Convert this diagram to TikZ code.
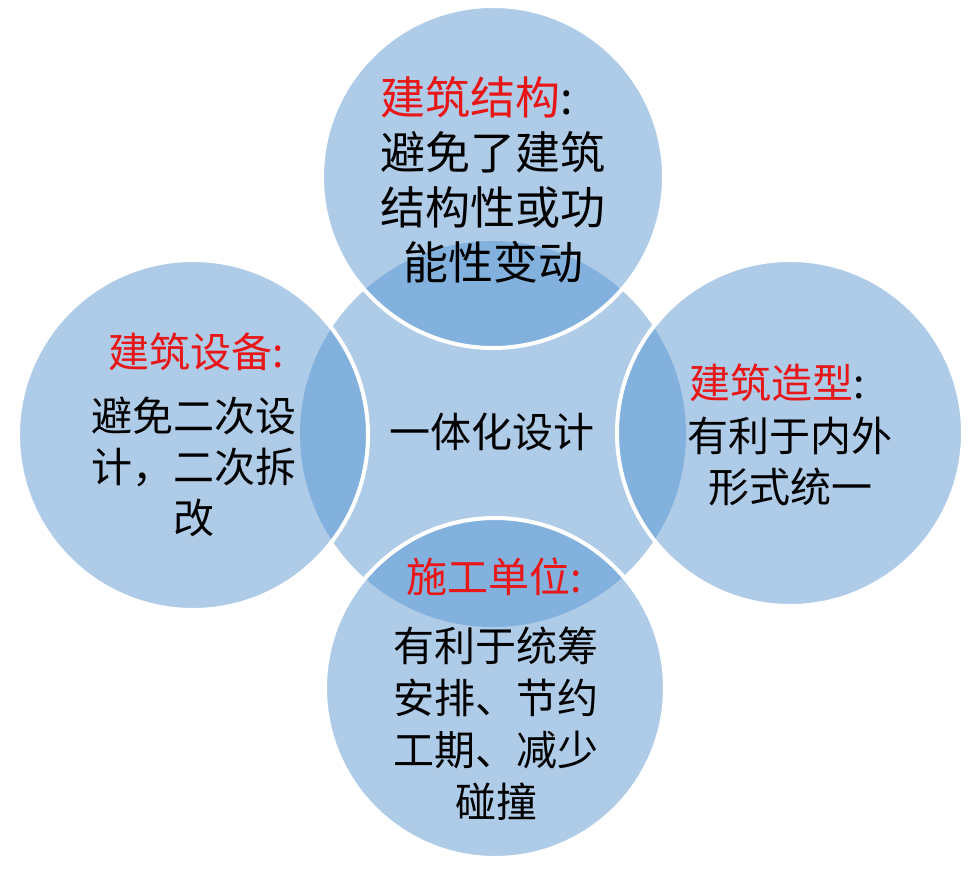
\documentclass[tikz,border=0pt]{standalone}
\usepackage{fontspec}
\setmainfont{Noto Sans CJK SC}
\definecolor{lightblue}{RGB}{174,203,232}
\definecolor{darkblue}{RGB}{131,177,222}
\definecolor{headred}{RGB}{232,22,22}
\begin{document}
\begin{tikzpicture}[x=1pt,y=-1pt,
  big/.style={align=center,inner sep=0pt,font=\fontsize{45}{55}\selectfont},
  mid/.style={align=center,inner sep=0pt,font=\fontsize{41}{51}\selectfont},
  head/.style={inner sep=0pt,text=headred},
  ring/.style={draw=white,line width=4pt}]
\useasboundingbox (0,0) rectangle (975,876);
\coordinate (cc) at (493,434);
\coordinate (ctop) at (493,177);
\coordinate (cleft) at (193,435);
\coordinate (cright) at (790,433);
\coordinate (cbot) at (495,688);
% base circles
\fill[lightblue] (cc) circle (193pt);
\fill[lightblue] (ctop) circle (171pt);
\fill[lightblue] (cleft) circle (175pt);
\fill[lightblue] (cright) circle (173pt);
\fill[lightblue] (cbot) circle (170pt);
% overlaps
\begin{scope}
  \clip (cc) circle (193pt);
  \fill[darkblue] (ctop) circle (171pt);
  \fill[darkblue] (cleft) circle (175pt);
  \fill[darkblue] (cright) circle (173pt);
  \fill[darkblue] (cbot) circle (170pt);
\end{scope}
% white rims
\draw[ring] (ctop) circle (171pt);
\draw[ring] (cleft) circle (175pt);
\draw[ring] (cright) circle (173pt);
\draw[ring] (cbot) circle (170pt);
% texts
\node[big,head] (th) at (477,97) {建筑结构\textcolor{black}{:}};
\node[big] (tb) at (493,207) {避免了建筑\\结构性或功\\能性变动};
\node[mid,head] (lh) at (196,352) {建筑设备:};
\node[mid] (lb) at (194,467) {避免二次设\\计，二次拆\\改};
\node[mid,head] (rh) at (777,383) {建筑造型\textcolor{black}{:}};
\node[mid] (rb) at (790,462) {有利于内外\\形式统一};
\node[mid,head] (bh) at (494,577) {施工单位:};
\node[mid,font=\fontsize{41}{52}\selectfont] (bb) at (496,724) {有利于统筹\\安排、节约\\工期、减少\\碰撞};
\node[mid] (center) at (492,432) {一体化设计};
\end{tikzpicture}
\end{document}
